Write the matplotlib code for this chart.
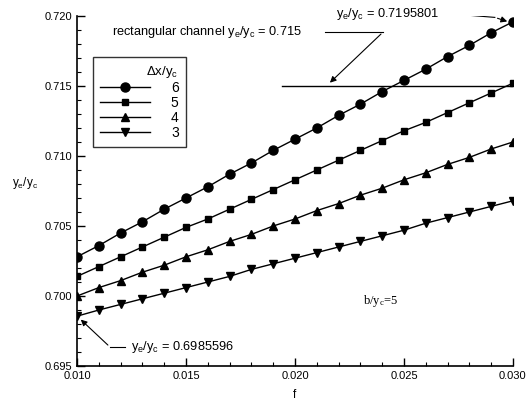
import matplotlib
matplotlib.use('Agg')
import matplotlib.pyplot as plt
from matplotlib.lines import Line2D
from matplotlib.ticker import MultipleLocator, FormatStrFormatter

plt.rcParams['font.family'] = ['Liberation Sans', 'DejaVu Sans']
plt.rcParams['mathtext.default'] = 'regular'

f = [0.010, 0.011, 0.012, 0.013, 0.014, 0.015, 0.016, 0.017, 0.018, 0.019, 0.020,
     0.021, 0.022, 0.023, 0.024, 0.025, 0.026, 0.027, 0.028, 0.029, 0.030]

dx6 = [0.7028, 0.7036, 0.7045, 0.7053, 0.7062, 0.7070, 0.7078, 0.7087, 0.7095, 0.7104, 0.7112,
       0.7120, 0.7129, 0.7137, 0.7146, 0.7154, 0.7162, 0.7171, 0.7179, 0.7188, 0.7195801]
dx5 = [0.7014, 0.7021, 0.7028, 0.7035, 0.7042, 0.7049, 0.7055, 0.7062, 0.7069, 0.7076, 0.7083,
       0.7090, 0.7097, 0.7104, 0.7111, 0.7118, 0.7124, 0.7131, 0.7138, 0.7145, 0.7152]
dx4 = [0.7000, 0.7006, 0.7011, 0.7017, 0.7022, 0.7028, 0.7033, 0.7039, 0.7044, 0.7050, 0.7055,
       0.7061, 0.7066, 0.7072, 0.7077, 0.7083, 0.7088, 0.7094, 0.7099, 0.7105, 0.7110]
dx3 = [0.6985596, 0.6990, 0.6994, 0.6998, 0.7002, 0.7006, 0.7010, 0.7014, 0.7019, 0.7023, 0.7027,
       0.7031, 0.7035, 0.7039, 0.7043, 0.7047, 0.7052, 0.7056, 0.7060, 0.7064, 0.7068]

rect_f = [0.0194, 0.030]
rect_y = [0.715, 0.715]

fig = plt.figure(figsize=(5.29, 4.07), dpi=100)
ax = fig.add_axes([0.1456, 0.1007, 0.824, 0.86])

ax.plot(f, dx6, color='black', lw=1, marker='o', ms=6.5)
ax.plot(f, dx5, color='black', lw=1, marker='s', ms=4.8)
ax.plot(f, dx4, color='black', lw=1, marker='^', ms=5.5)
ax.plot(f, dx3, color='black', lw=1, marker='v', ms=5.5)
ax.plot(rect_f, rect_y, color='black', lw=1)

ax.set_xlim(0.010, 0.030)
ax.set_ylim(0.695, 0.720)
ax.xaxis.set_major_locator(MultipleLocator(0.005))
ax.xaxis.set_minor_locator(MultipleLocator(0.001))
ax.yaxis.set_major_locator(MultipleLocator(0.005))
ax.yaxis.set_minor_locator(MultipleLocator(0.001))
ax.xaxis.set_major_formatter(FormatStrFormatter('%.3f'))
ax.yaxis.set_major_formatter(FormatStrFormatter('%.3f'))
ax.tick_params(which='major', direction='in', length=6, width=1, labelsize=8)
ax.tick_params(which='minor', direction='in', length=3, width=0.8)
ax.spines['top'].set_visible(False)
ax.spines['right'].set_visible(False)
ax.spines['left'].set_linewidth(1.2)
ax.spines['bottom'].set_linewidth(1.2)

ax.set_xlabel('f', fontsize=8.5, labelpad=6)
ax.set_ylabel('y$_e$/y$_c$', fontsize=8.5, rotation=0, labelpad=14)

handles = [Line2D([], [], color='black', lw=1, marker='o', ms=6.5),
           Line2D([], [], color='black', lw=1, marker='s', ms=4.8),
           Line2D([], [], color='black', lw=1, marker='^', ms=5.5),
           Line2D([], [], color='black', lw=1, marker='v', ms=5.5)]
leg = ax.legend(handles, ['6', '5', '4', '3'], title='Δx/y$_c$', loc='upper left',
                bbox_to_anchor=(0.037, 0.883), fontsize=10, title_fontsize=9.5,
                frameon=True, fancybox=False, edgecolor='black', handlelength=3.6,
                labelspacing=0.08, borderpad=0.5, handletextpad=1.5, borderaxespad=0)
leg.get_frame().set_linewidth(1)
leg._legend_box.align = 'right'

arrow = dict(arrowstyle='-|>', color='black', lw=0.8, mutation_scale=9)

# rectangular channel reference line label
ax.text(0.0116, 0.71885, 'rectangular channel y$_e$/y$_c$ = 0.715', fontsize=9.2,
        va='center', ha='left')
ax.plot([0.02138, 0.02404], [0.71885, 0.71885], color='black', lw=0.8)
ax.annotate('', xy=(0.02151, 0.7151), xytext=(0.02404, 0.71885), arrowprops=arrow)

# end value of series 6
ax.text(0.0219, 0.72012, 'y$_e$/y$_c$ = 0.7195801', fontsize=9.2, va='center', ha='left')
ax.plot([0.02743, 0.02917], [0.72012, 0.7199], color='black', lw=0.8)
ax.annotate('', xy=(0.02986, 0.71955), xytext=(0.02917, 0.7199), arrowprops=arrow)

# start value of series 3
ax.text(0.01248, 0.69636, 'y$_e$/y$_c$ = 0.6985596', fontsize=9.2, va='center', ha='left')
ax.plot([0.01151, 0.0122], [0.69636, 0.69636], color='black', lw=0.8)
ax.annotate('', xy=(0.01008, 0.69845), xytext=(0.01151, 0.69636), arrowprops=arrow)

ax.text(0.0231, 0.69964, 'b/y$_c$=5', fontsize=9, family='Liberation Serif',
        va='center', ha='left')

fig.savefig('out.png', dpi=100)
